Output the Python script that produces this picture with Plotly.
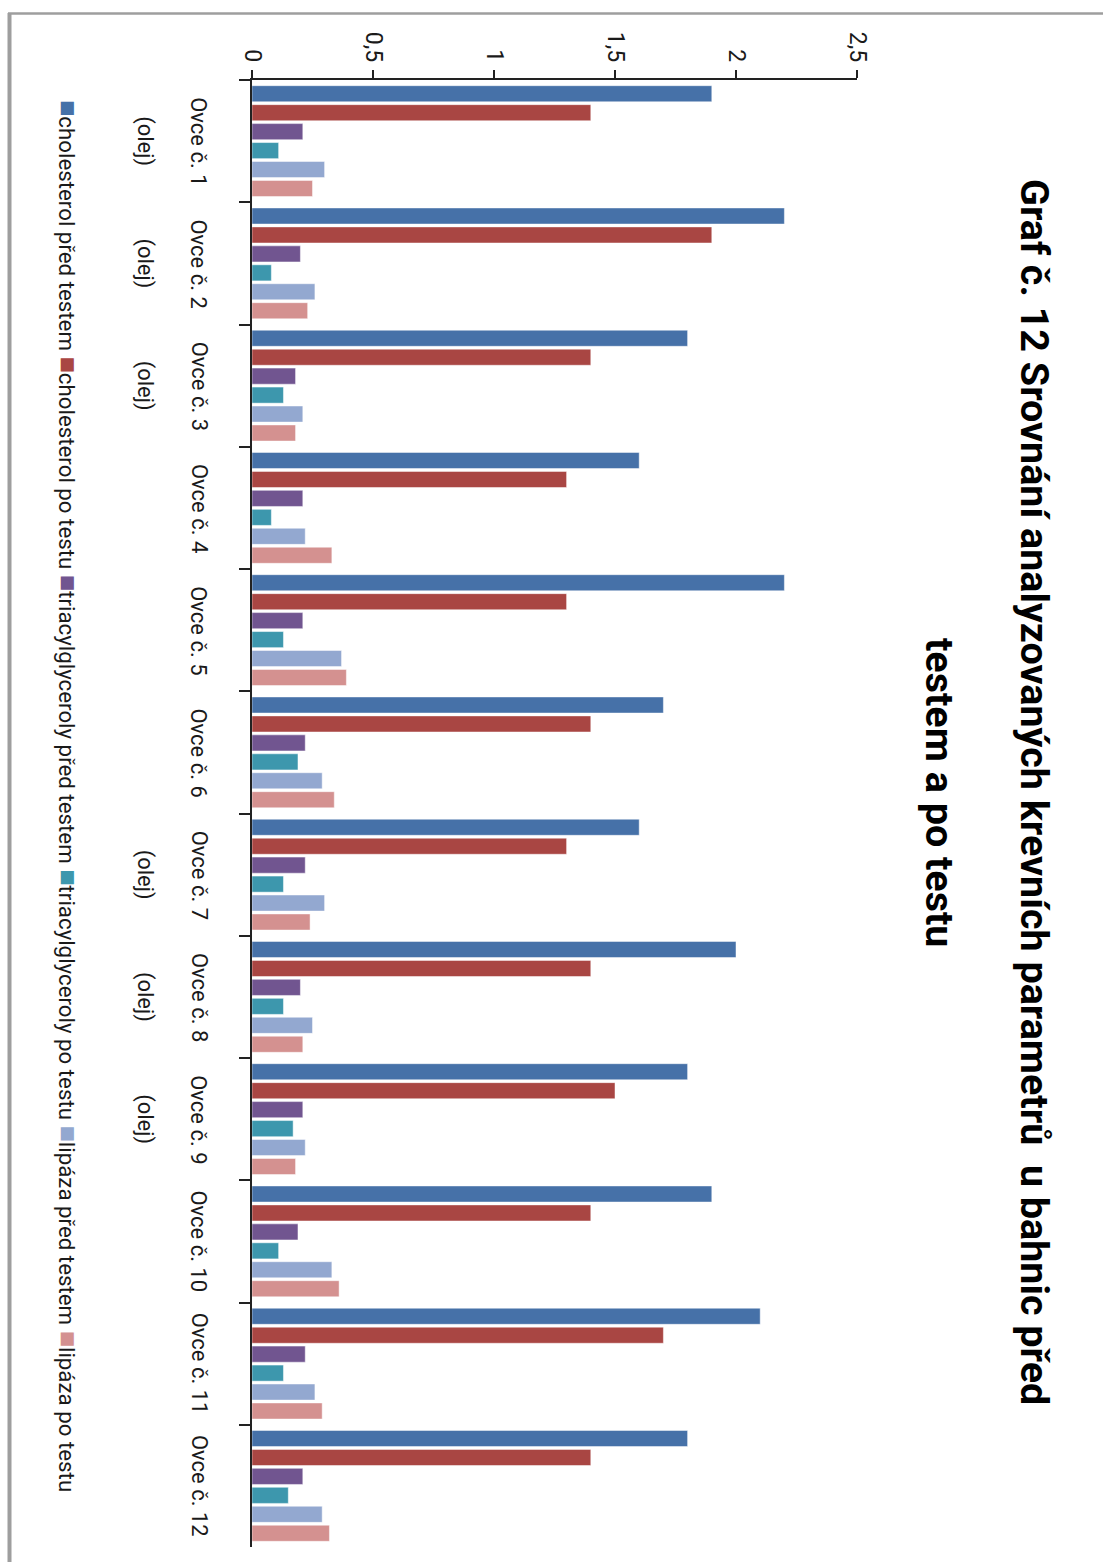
import plotly.graph_objects as go

categories = [f"Ovce č. {i}" for i in range(1, 13)]
olej = [True, True, True, False, False, False, True, True, True, False, False, False]

series_names = [
    "cholesterol před testem",
    "cholesterol po testu",
    "triacylglyceroly před testem",
    "triacylglyceroly po testu",
    "lipáza před testem",
    "lipáza po testu",
]
chol_pred = [1.9, 2.2, 1.8, 1.6, 2.2, 1.7, 1.6, 2.0, 1.8, 1.9, 2.1, 1.8]
chol_po = [1.4, 1.9, 1.4, 1.3, 1.3, 1.4, 1.3, 1.4, 1.5, 1.4, 1.7, 1.4]
tag_pred = [0.21, 0.20, 0.18, 0.21, 0.21, 0.22, 0.22, 0.20, 0.21, 0.19, 0.22, 0.21]
tag_po = [0.11, 0.08, 0.13, 0.08, 0.13, 0.19, 0.13, 0.13, 0.17, 0.11, 0.13, 0.15]
lip_pred = [0.30, 0.26, 0.21, 0.22, 0.37, 0.29, 0.30, 0.25, 0.22, 0.33, 0.26, 0.29]
lip_po = [0.25, 0.23, 0.18, 0.33, 0.39, 0.34, 0.24, 0.21, 0.18, 0.36, 0.29, 0.32]
values = [chol_pred, chol_po, tag_pred, tag_po, lip_pred, lip_po]
colors = ["#4671A8", "#A94643", "#715590", "#3D97AD", "#93A8D0", "#D49190"]

value_ticks = [0, 0.5, 1, 1.5, 2, 2.5]

FONT = "Roboto, Liberation Sans, sans-serif"

fig = go.Figure()
for name, vals, col in zip(series_names, values, colors):
    fig.add_trace(go.Bar(
        y=categories, x=vals, name=name, orientation="h",
        marker=dict(color=col, line=dict(width=0.8, color="rgba(255,255,255,0.6)")),
        showlegend=False,
    ))

# plot area in pixels
L, R, T, B = 252, 857, 80, 1547
W, H = 1103, 1562

def px(xp):
    return (xp - L) / (R - L)

def py(yp):
    return 1 - (yp - T) / (B - T)

annotations = []
# category labels (rotated)
for cat, o in zip(categories, olej):
    annotations.append(dict(
        x=px(199), y=cat, xref="paper", yref="y", text=cat, showarrow=False,
        textangle=90, xanchor="center", yanchor="middle",
        font=dict(family=FONT, size=22, color="#1a1a1a"),
    ))
    if o:
        annotations.append(dict(
            x=px(145), y=cat, xref="paper", yref="y", text="(olej)", showarrow=False,
            textangle=90, xanchor="center", yanchor="middle",
            font=dict(family=FONT, size=22, color="#1a1a1a"),
        ))

# title (two lines, rotated)
annotations.append(dict(
    x=px(1035), y=py(792), xref="paper", yref="paper",
    text="<b>Graf č. 12 Srovnání analyzovaných krevních parametrů  u bahnic před</b>",
    showarrow=False, textangle=90, xanchor="center", yanchor="middle",
    font=dict(family=FONT, size=39.5, color="#000000"),
))
annotations.append(dict(
    x=px(940), y=py(792), xref="paper", yref="paper",
    text="<b>testem a po testu</b>",
    showarrow=False, textangle=90, xanchor="center", yanchor="middle",
    font=dict(family=FONT, size=39.5, color="#000000"),
))

# legend (rotated, built from series names/colors)
parts = []
for name, col in zip(series_names, colors):
    parts.append(f"<span style='color:{col};font-size:27px'>■</span>{name}")
annotations.append(dict(
    x=px(68), y=py(796), xref="paper", yref="paper",
    text=" ".join(parts), showarrow=False, textangle=90,
    xanchor="center", yanchor="middle",
    font=dict(family=FONT, size=22.3, color="#1a1a1a"),
))

shapes = [
    dict(type="line", xref="paper", yref="paper", x0=px(9.5), x1=px(9.5), y0=py(13), y1=py(W + 600),
         line=dict(color="#9E9E9E", width=4)),
    dict(type="line", xref="paper", yref="paper", x0=px(8), x1=px(1110), y0=py(13.5), y1=py(13.5),
         line=dict(color="#9E9E9E", width=2.5)),
]

fig.update_layout(
    width=W, height=H,
    margin=dict(l=L, r=W - R, t=T, b=H - B, pad=0),
    paper_bgcolor="white", plot_bgcolor="white",
    barmode="group", bargap=0.07, bargroupgap=0.15,
    separators=", ",
    font=dict(family=FONT, size=22, color="#1a1a1a"),
    xaxis=dict(
        side="top", range=[0, 2.5], tickvals=value_ticks,
        tickformat=".1~f", showgrid=False, zeroline=False,
        showline=True, linecolor="#222", linewidth=1.5,
        ticks="outside", ticklen=8, tickcolor="#222", tickwidth=1.5,
        tickangle=90, tickfont=dict(family=FONT, size=23, color="#1a1a1a"),
    ),
    yaxis=dict(
        type="category", autorange="reversed", showgrid=False, zeroline=False,
        showline=True, linecolor="#222", linewidth=1.5,
        ticks="outside", ticklen=11, tickcolor="#222", tickwidth=1.5,
        tickson="boundaries", showticklabels=False,
    ),
    annotations=annotations,
    shapes=shapes,
)

fig.write_html("out.html")
